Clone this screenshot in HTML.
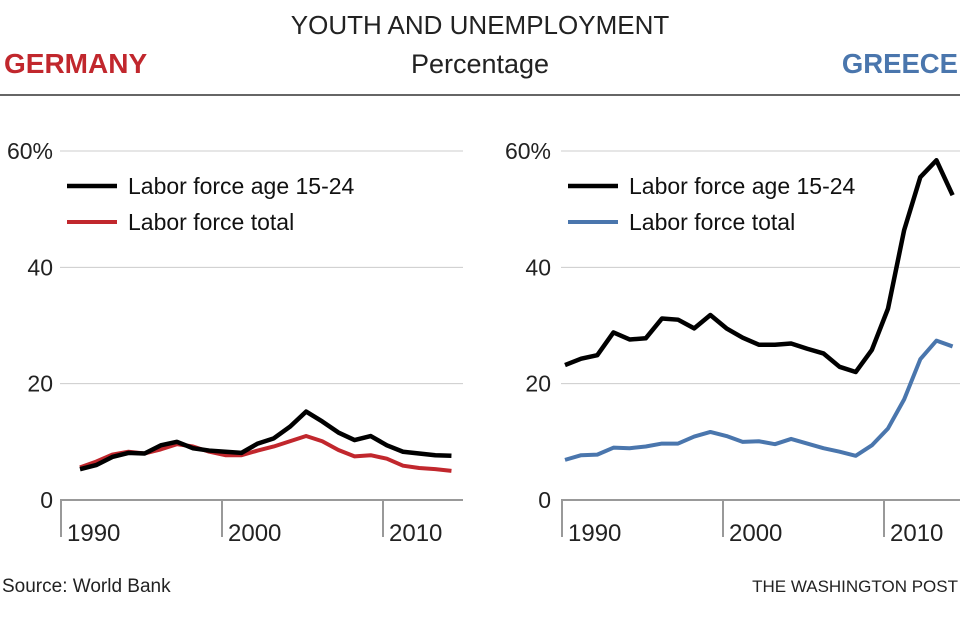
<!DOCTYPE html>
<html><head><meta charset="utf-8"><style>
body{margin:0;background:#fff;}
svg text{font-family:"Liberation Sans",sans-serif;}
</style></head><body>
<svg width="960" height="613" viewBox="0 0 960 613" xmlns="http://www.w3.org/2000/svg">
<text x="480" y="34" text-anchor="middle" font-size="26" fill="#222">YOUTH AND UNEMPLOYMENT</text>
<text x="480" y="73" text-anchor="middle" font-size="27" fill="#222">Percentage</text>
<text x="4" y="73" font-size="28" font-weight="bold" fill="#c1272d">GERMANY</text>
<text x="958" y="73" text-anchor="end" font-size="27.5" font-weight="bold" fill="#4a76ad">GREECE</text>
<line x1="0" y1="95" x2="960" y2="95" stroke="#333" stroke-width="1.5"/>
<g id="left"></g>
<g id="right"></g>
<text x="2" y="592" font-size="19" fill="#222">Source: World Bank</text>
<text x="958" y="592" text-anchor="end" font-size="17" fill="#222">THE WASHINGTON POST</text>
</svg>
<script>
const yTicks=[0,20,40,60];
const yTickLabels=["0","20","40","60%"];
const xTicks=[1990,2000,2010];
const deYears=[1991,1992,1993,1994,1995,1996,1997,1998,1999,2000,2001,2002,2003,2004,2005,2006,2007,2008,2009,2010,2011,2012,2013,2014];
const deYouth=[5.3,6.0,7.4,8.1,8.0,9.4,10.0,8.9,8.5,8.3,8.1,9.7,10.6,12.6,15.2,13.5,11.6,10.3,11.0,9.4,8.3,8.0,7.7,7.6];
const deTotal=[5.6,6.6,7.8,8.3,8.0,8.7,9.6,9.2,8.3,7.7,7.7,8.5,9.2,10.1,11.0,10.1,8.6,7.5,7.7,7.1,5.9,5.5,5.3,5.0];
const grYears=[1990,1991,1992,1993,1994,1995,1996,1997,1998,1999,2000,2001,2002,2003,2004,2005,2006,2007,2008,2009,2010,2011,2012,2013,2014];
const grYouth=[23.2,24.3,24.9,28.8,27.6,27.8,31.2,31.0,29.5,31.8,29.5,27.9,26.7,26.7,26.9,26.0,25.2,22.9,22.0,25.8,32.9,46.4,55.5,58.4,52.4];
const grTotal=[6.9,7.7,7.8,9.0,8.9,9.2,9.7,9.7,10.9,11.7,11.0,10.0,10.1,9.6,10.5,9.7,8.9,8.3,7.6,9.4,12.3,17.3,24.2,27.4,26.4];
const NS="http://www.w3.org/2000/svg";
function mk(tag,attrs,parent){const e=document.createElementNS(NS,tag);for(const k in attrs)e.setAttribute(k,attrs[k]);parent.appendChild(e);return e;}
function panel(g,ox,gridEnd,labelX,years,youth,total,color,prefix,x0){
  const y=v=>500-v*(349/60);
  const x=yr=>ox+(yr-1990)*16.1;
  const xd=yr=>x0+(yr-years[0])*16.15;
  yTicks.forEach((t,i)=>{
    const l=mk('line',{x1:ox-1,x2:gridEnd,y1:y(t),y2:y(t),stroke:t===0?'#999':'#ccc','stroke-width':t===0?2:1},g);
    
    
    const tx=mk('text',{x:labelX,y:y(t)+8,'text-anchor':'end','font-size':23,fill:'#222'},g);
    tx.textContent=yTickLabels[i];
    
    
  });
  xTicks.forEach(t=>{
    const l=mk('line',{x1:x(t),x2:x(t),y1:500,y2:537,stroke:'#999','stroke-width':2},g);
    
    
    const tx=mk('text',{x:x(t)+6,y:541,'font-size':24,fill:'#222'},g);
    tx.textContent=String(t);
    
    
  });
  const p1=mk('polyline',{points:years.map((yr,i)=>xd(yr)+','+y(total[i])).join(' '),fill:'none',stroke:color,'stroke-width':4,'stroke-linejoin':'round'},g);
  
  
  const p2=mk('polyline',{points:years.map((yr,i)=>xd(yr)+','+y(youth[i])).join(' '),fill:'none',stroke:'#000','stroke-width':4.5,'stroke-linejoin':'round'},g);
  
  
  const lx=ox+6;
  const a=mk('line',{x1:lx,x2:lx+50,y1:186,y2:186,stroke:'#000','stroke-width':4.5},g);
  
  
  const at=mk('text',{x:lx+61,y:194,'font-size':23,fill:'#111'},g);
  at.textContent='Labor force age 15-24';
  
  
  const b=mk('line',{x1:lx,x2:lx+50,y1:222,y2:222,stroke:color,'stroke-width':4},g);
  
  
  const bt=mk('text',{x:lx+61,y:230,'font-size':23,fill:'#111'},g);
  bt.textContent='Labor force total';
  
  
}
panel(document.getElementById('left'),61,463,53,deYears,deYouth,deTotal,'#c1272d','germany',80);
panel(document.getElementById('right'),562,960,551,grYears,grYouth,grTotal,'#4a76ad','greece',565);
</script>
</body></html>
